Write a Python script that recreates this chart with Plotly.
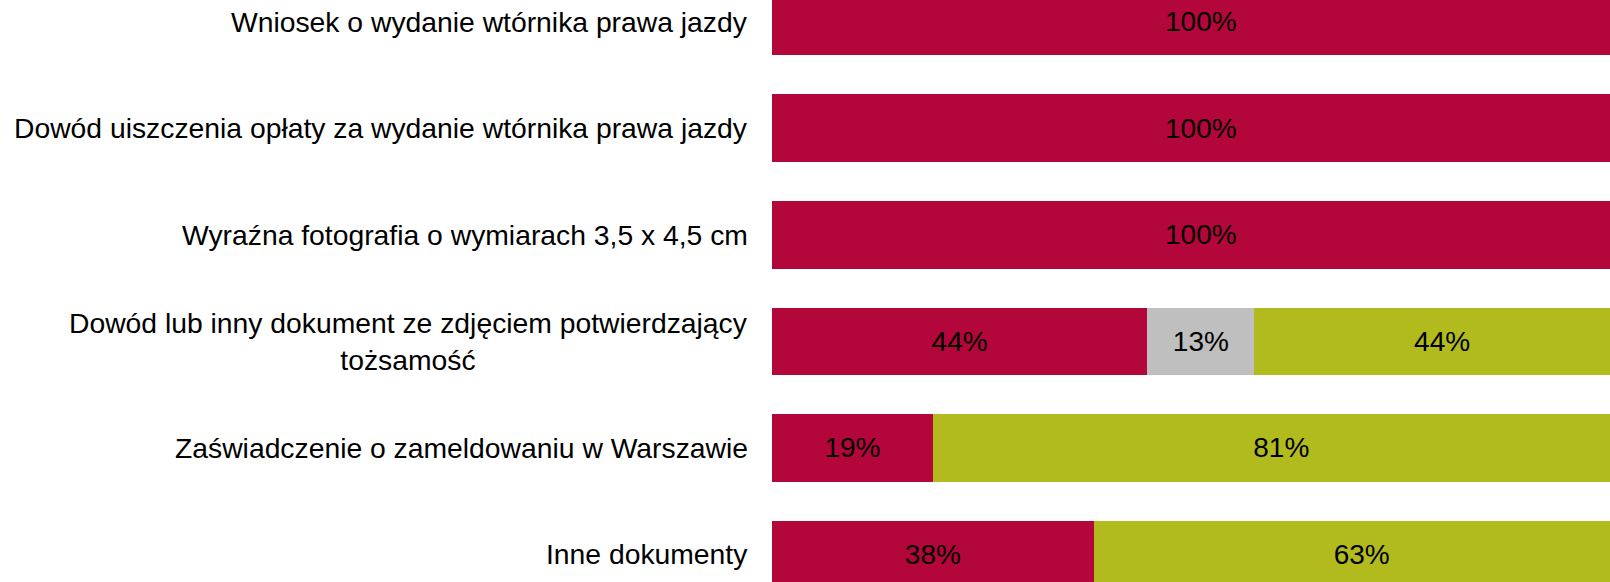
import plotly.graph_objects as go

categories = [
    "Wniosek o wydanie wtórnika prawa jazdy",
    "Dowód uiszczenia opłaty za wydanie wtórnika prawa jazdy",
    "Wyraźna fotografia o wymiarach 3,5 x 4,5 cm",
    "Dowód lub inny dokument ze zdjęciem potwierdzający<br>tożsamość",
    "Zaświadczenie o zameldowaniu w Warszawie",
    "Inne dokumenty",
]

red_vals = [100, 100, 100, 43.75, 18.75, 37.5]
gray_vals = [0, 0, 0, 12.5, 0, 0]
green_vals = [0, 0, 0, 43.75, 81.25, 62.5]

series = [
    ("red", red_vals, "#B3063A"),
    ("gray", gray_vals, "#BFBFBF"),
    ("green", green_vals, "#B2BB1E"),
]

FONT = "Liberation Sans, Arial"

fig = go.Figure()
for name, vals, color in series:
    # round half up like the original
    txt = [f"{int(v + 0.5)}%" if v > 0 else "" for v in vals]
    fig.add_trace(go.Bar(
        y=categories, x=vals, orientation="h", name=name,
        marker=dict(color=color, line=dict(width=0)),
        text=txt, textposition="inside", insidetextanchor="middle",
        textangle=0, textfont=dict(size=28, color="black", family=FONT),
        width=0.634, showlegend=False, hoverinfo="skip",
    ))

for cat in categories:
    fig.add_annotation(
        x=0, xref="paper", y=cat, yref="y", text=cat,
        xanchor="right", yanchor="middle", align="center", xshift=-22,
        showarrow=False, font=dict(size=28.3, color="black", family=FONT),
    )

fig.update_layout(
    barmode="stack",
    width=1610, height=582,
    margin=dict(l=772, r=0, t=0, b=0),
    plot_bgcolor="white", paper_bgcolor="white",
    xaxis=dict(range=[0, 97.7], visible=False, fixedrange=True),
    yaxis=dict(range=[5.26, -0.204], showticklabels=False, showgrid=False,
               zeroline=False, showline=False, ticks="", fixedrange=True),
)

fig.write_html("out.html", config={"displayModeBar": False},
               post_script="document.body.style.margin='0';")
